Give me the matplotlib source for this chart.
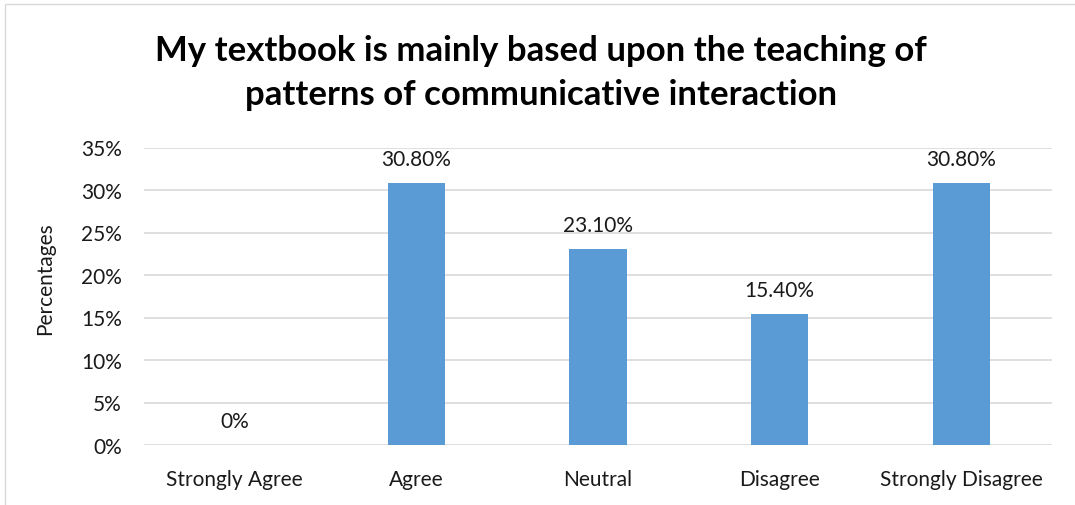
import matplotlib.pyplot as plt
from matplotlib.patches import Rectangle

categories = ['Strongly Agree', 'Agree', 'Neutral', 'Disagree', 'Strongly Disagree']
values = [0.0, 30.8, 23.1, 15.4, 30.8]
labels = ['0%', '30.80%', '23.10%', '15.40%', '30.80%']
yticks = [0, 5, 10, 15, 20, 25, 30, 35]

plt.rcParams['font.family'] = ['Lato', 'DejaVu Sans']
txt = '#1a1a1a'

fig = plt.figure(figsize=(10.75, 5.06), dpi=100)
ax = fig.add_axes([144 / 1075, 1 - 446 / 506, 908 / 1075, 297.5 / 506])

# outer chart frame (only left/top visible in the reference)
fig.patches.append(Rectangle((5.5 / 1075, -0.1), 1.2, (1 - 4.5 / 506) + 0.1,
                             transform=fig.transFigure, fill=False,
                             edgecolor='#d9d9d9', linewidth=1))

x = range(len(categories))
ax.bar(x, values, width=0.314, color='#5b9bd5', zorder=3)
for xi, v, lab in zip(x, values, labels):
    ax.annotate(lab, (xi, v), xytext=(0, 10), textcoords='offset points',
                ha='center', va='bottom', fontsize=15, color=txt)

ax.set_xlim(-0.5, len(categories) - 0.5)
ax.set_ylim(0, 35)
ax.set_yticks(yticks)
ax.set_yticklabels([f'{t}%' for t in yticks])
ax.set_xticks(list(x))
ax.set_xticklabels(categories)
ax.grid(axis='y', color='#d9d9d9', linewidth=1.2, zorder=0)
for s in ax.spines.values():
    s.set_visible(False)
ax.tick_params(length=0, labelsize=15, colors=txt)
ax.tick_params(axis='y', pad=16)
ax.tick_params(axis='x', pad=17)

fig.text(45 / 1075, 1 - 279 / 506, 'Percentages', rotation=90, ha='center', va='center',
         fontsize=15, color=txt)

fig.text(0.503, 1 - 73 / 506, 'My textbook is mainly based upon the teaching of\npatterns of communicative interaction',
         ha='center', va='center', fontsize=25, fontweight='bold', linespacing=1.45)

fig.savefig('out.png', dpi=100)
